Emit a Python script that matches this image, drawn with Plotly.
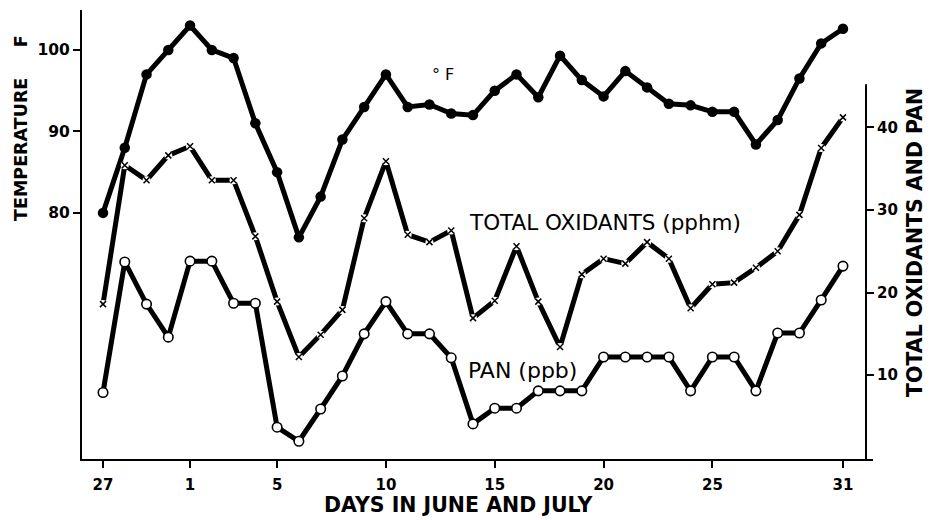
import plotly.graph_objects as go

# ---- data ----
day_labels = ["27", "28", "29", "30"] + [str(d) for d in range(1, 32)]
day_index = list(range(len(day_labels)))  # June 27 .. July 31

temperature = [80, 88, 97, 100, 103, 100, 99, 91, 85, 77, 82, 89, 93, 97, 93, 93.3, 92.2, 92,
               95, 97, 94.2, 99.3, 96.3, 94.3, 97.4, 95.4, 93.4, 93.2, 92.4, 92.4, 88.4, 91.4,
               96.5, 100.8, 102.6]
oxidants = [18.6, 35.4, 33.6, 36.6, 37.7, 33.6, 33.6, 26.8, 18.9, 12.2, 14.9, 17.9, 29.0, 35.9,
            27.0, 26.1, 27.5, 16.9, 19.0, 25.6, 18.9, 13.4, 22.2, 24.1, 23.5, 26.1, 24.1, 18.1,
            21.0, 21.2, 23.0, 25.0, 29.4, 37.5, 41.2]
pan = [7.9, 23.7, 18.6, 14.6, 23.8, 23.8, 18.7, 18.7, 3.7, 2.0, 5.9, 9.9, 15.0, 18.9, 15.0, 15.0,
       12.1, 4.1, 6.0, 6.0, 8.1, 8.1, 8.1, 12.2, 12.2, 12.2, 12.2, 8.1, 12.2, 12.2, 8.1, 15.1,
       15.1, 19.1, 23.2]

x_tick_days = ["27", "1", "5", "10", "15", "20", "25", "31"]
x_tick_pos = [0, 4, 8, 13, 18, 23, 28, 34]
left_ticks = [80, 90, 100]
right_ticks = [10, 20, 30, 40]

FONT = "DejaVu Sans"
LW = 5

fig = go.Figure()

# temperature (filled circles, left axis)
fig.add_trace(go.Scatter(x=day_index, y=temperature, mode="lines+markers",
                         line=dict(color="black", width=LW),
                         marker=dict(symbol="circle", size=10.5, color="black"),
                         yaxis="y", showlegend=False))
# total oxidants (x marks, right axis)
fig.add_trace(go.Scatter(x=day_index, y=oxidants, mode="lines",
                         line=dict(color="black", width=LW),
                         yaxis="y2", showlegend=False))
fig.add_trace(go.Scatter(x=day_index, y=oxidants, mode="markers",
                         marker=dict(symbol="circle", size=8, color="white"),
                         yaxis="y2", showlegend=False))
fig.add_trace(go.Scatter(x=day_index, y=oxidants, mode="markers",
                         marker=dict(symbol="x-thin-open", size=6, color="black",
                                     line=dict(color="black", width=1.5)),
                         yaxis="y2", showlegend=False))
# PAN (open circles, right axis)
fig.add_trace(go.Scatter(x=day_index, y=pan, mode="lines+markers",
                         line=dict(color="black", width=LW),
                         marker=dict(symbol="circle", size=9.5, color="white",
                                     line=dict(color="black", width=1.6)),
                         yaxis="y2", showlegend=False))

# page has an 8px body margin: work in page pixels, convert to figure pixels
OFF = 8
W, H = 932 - OFF, 520 - OFF
plot_l, plot_r = 82 - OFF, 873 - OFF
plot_t, plot_b = 10 - OFF, 459 - OFF
right_axis_px = 866 - OFF
x_lo, x_hi = -0.965, 35.38
right_axis_x = x_lo + (right_axis_px - plot_l) / (plot_r - plot_l) * (x_hi - x_lo)


def px_x(px):
    return (px - OFF - plot_l) / (plot_r - plot_l)


def px_y(py):
    return (plot_b - (py - OFF)) / (plot_b - plot_t)


fig.update_layout(
    width=W, height=H,
    margin=dict(l=plot_l, r=W - plot_r, t=plot_t, b=H - plot_b, autoexpand=False),
    paper_bgcolor="white", plot_bgcolor="white",
    font=dict(family=FONT, color="black"),
    xaxis=dict(range=[x_lo, x_hi], tickvals=x_tick_pos, ticktext=x_tick_days,
               showline=True, linecolor="black", linewidth=2, ticks="outside",
               ticklen=7, tickwidth=1.5, tickcolor="black", showgrid=False, zeroline=False,
               automargin=False, ticklabelstandoff=4,
               tickfont=dict(size=15, family=FONT, weight="bold")),
    yaxis=dict(range=[49.8, 104.9], tickvals=left_ticks, showline=True, linecolor="black",
               linewidth=2, ticks="outside", ticklen=7, tickwidth=1.5, tickcolor="black",
               showgrid=False, zeroline=False, automargin=False,
               tickfont=dict(size=15.5, family=FONT, weight="bold")),
    yaxis2=dict(range=[-0.15, 54.2], tickvals=right_ticks, overlaying="y", side="right",
                anchor="free", position=(right_axis_px - plot_l) / (plot_r - plot_l),
                showline=False, ticks="outside", ticklen=7, tickwidth=1.5, tickcolor="black",
                showgrid=False, zeroline=False, automargin=False,
                tickfont=dict(size=15, family=FONT, weight="bold")),
)

# right axis line (shorter than left one)
fig.add_shape(type="line", xref="x", yref="y2", x0=right_axis_x, x1=right_axis_x,
              y0=-0.15, y1=45.2, line=dict(color="black", width=2))

# texts
fig.add_annotation(text="TEMPERATURE     F", xref="paper", yref="paper", x=px_x(21),
                   y=px_y(128), xanchor="center", yanchor="middle", textangle=-90,
                   showarrow=False, font=dict(size=17.5, family=FONT, weight="bold"))
fig.add_annotation(text="TOTAL OXIDANTS AND PAN", xref="paper", yref="paper", x=px_x(915),
                   y=px_y(243), xanchor="center", yanchor="middle", textangle=-90,
                   showarrow=False, font=dict(size=20.5, family=FONT, weight="bold"))
fig.add_annotation(text="DAYS IN JUNE AND JULY", xref="paper", yref="paper", x=px_x(458),
                   y=px_y(505), xanchor="center", yanchor="middle", showarrow=False,
                   font=dict(size=20.5, family=FONT, weight="bold"))
fig.add_annotation(text="° F", xref="paper", yref="paper", x=px_x(443), y=px_y(75),
                   xanchor="center", yanchor="middle", showarrow=False,
                   font=dict(size=16, family=FONT))
fig.add_annotation(text="TOTAL OXIDANTS (pphm)", xref="paper", yref="paper", x=px_x(467),
                   y=px_y(222), xanchor="left", yanchor="middle", showarrow=False,
                   font=dict(size=21.5, family=FONT))
fig.add_annotation(text="PAN (ppb)", xref="paper", yref="paper", x=px_x(466), y=px_y(370),
                   xanchor="left", yanchor="middle", showarrow=False,
                   font=dict(size=22, family=FONT))

fig.write_html("out.html")
